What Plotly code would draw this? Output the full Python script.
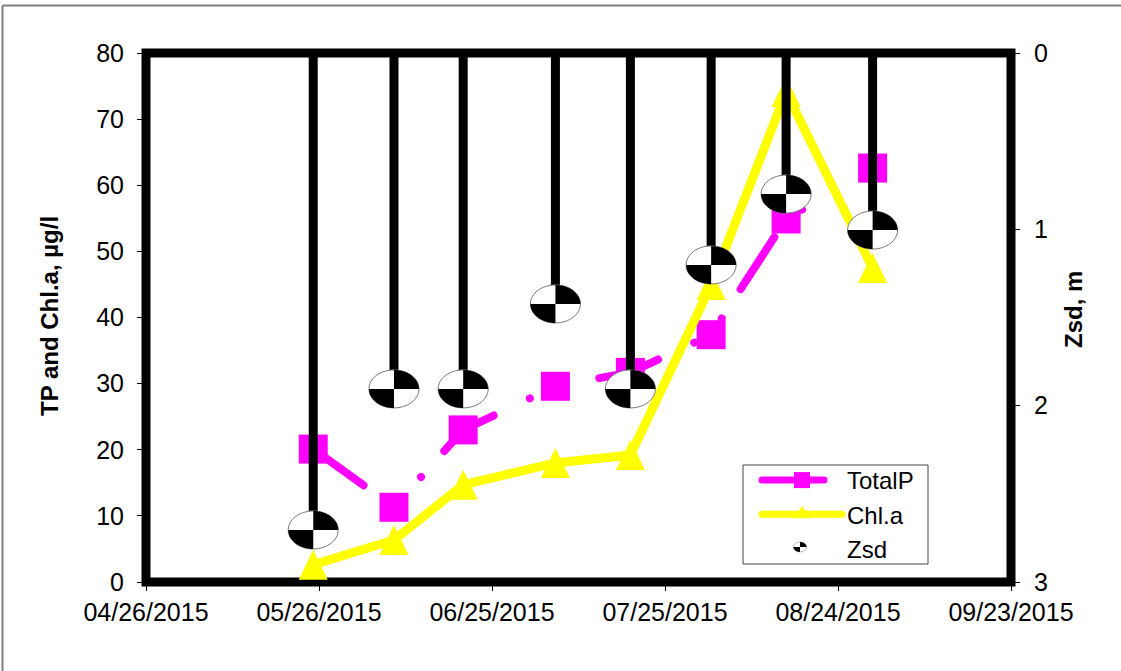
import plotly.graph_objects as go

dates = ["2015-05-25", "2015-06-08", "2015-06-20", "2015-07-06",
         "2015-07-19", "2015-08-02", "2015-08-15", "2015-08-30"]
total_p = [20.1, 11.3, 23.0, 29.6, 31.7, 37.4, 54.9, 62.6]
chl_a = [2.6, 6.35, 14.7, 18.0, 19.2, 44.9, 74.1, 47.5]
zsd = [2.705, 1.905, 1.905, 1.423, 1.905, 1.202, 0.80, 1.004]

x_ticks = ["2015-04-26", "2015-05-26", "2015-06-25", "2015-07-25",
           "2015-08-24", "2015-09-23"]
y_ticks = [0, 10, 20, 30, 40, 50, 60, 70, 80]
y2_ticks = [0, 1, 2, 3]

W, H = 1121, 671
L, R, T, B = 146, 1011, 53, 582
FONT = "Liberation Sans, Arial, sans-serif"
FS = 24
TICK_FS = 25


def px(v):
    return (v - L) / (R - L)


def py(v):
    return (B - v) / (B - T)


def ellipse_paths(rx, ry):
    k = 0.5523
    cx, cy = rx * k, ry * k
    full = (f"M{rx},0 C{rx},{cy} {cx},{ry} 0,{ry} C{-cx},{ry} {-rx},{cy} {-rx},0 "
            f"C{-rx},{-cy} {-cx},{-ry} 0,{-ry} C{cx},{-ry} {rx},{-cy} {rx},0 Z")
    tr = f"M0,0 L0,{ry} C{cx},{ry} {rx},{cy} {rx},0 Z"
    bl = f"M0,0 L0,{-ry} C{-cx},{-ry} {-rx},{-cy} {-rx},0 Z"
    return full, tr, bl


def wheel(xref, yref, xa, ya, rx, ry, lw):
    full, tr, bl = ellipse_paths(rx, ry)
    base = dict(type="path", xref=xref, yref=yref, xsizemode="pixel",
                ysizemode="pixel", xanchor=xa, yanchor=ya, layer="above")
    return [
        dict(base, path=full, fillcolor="white", line=dict(color="#777777", width=lw)),
        dict(base, path=tr, fillcolor="black", line=dict(width=0)),
        dict(base, path=bl, fillcolor="black", line=dict(width=0)),
    ]


border = dict(type="line", xref="paper", yref="paper",
              line=dict(color="#808080", width=2), layer="below")
shapes = [
    dict(border, x0=px(2.5), x1=px(2.5), y0=py(671), y1=py(5.5)),
    dict(border, x0=px(2.5), x1=px(1121), y0=py(5.5), y1=py(5.5)),
    dict(type="rect", xref="paper", yref="paper", x0=0, x1=1, y0=0, y1=1,
         line=dict(color="black", width=9), layer="below"),
]
for d, c in zip(dates, chl_a):
    shapes.append(dict(type="path", xref="x", yref="y", xsizemode="pixel",
                       ysizemode="pixel", xanchor=d, yanchor=c, layer="below",
                       path="M-14.5,-15 L14.5,-15 L0,15 Z", fillcolor="#FFFF00",
                       line=dict(width=0)))
for d, z in zip(dates, zsd):
    shapes += wheel("x", "y2", d, z, 25, 19, 1)
shapes.append(dict(type="rect", xref="paper", yref="paper", x0=px(743), x1=px(928),
                   y0=py(564), y1=py(465), fillcolor="white",
                   line=dict(color="#444444", width=1), layer="above"))
shapes += wheel("paper", "paper", px(800), py(547), 6.5, 5, 0.5)

fig = go.Figure()
fig.add_trace(go.Scatter(
    x=dates, y=total_p, name="TotalP", mode="lines+markers", legendgroup="a",
    line=dict(color="#FF00FF", width=8, dash="62px,40px,0.1px,38px,0.1px,34.8px"),
    marker=dict(symbol="square", size=29, color="#FF00FF", line=dict(width=0))))
fig.add_trace(go.Scatter(
    x=dates, y=chl_a, name="Chl.a", mode="lines+markers", legendgroup="b",
    line=dict(color="#FFFF00", width=9),
    marker=dict(symbol="triangle-up", size=16, color="#FFFF00", line=dict(width=0))))
fig.add_trace(go.Scatter(
    x=dates, y=zsd, name="Zsd", mode="markers", yaxis="y2", legendgroup="c",
    marker=dict(size=6, color="rgba(0,0,0,0)", line=dict(width=0)),
    error_y=dict(type="data", symmetric=False, array=[0] * len(zsd), arrayminus=zsd,
                 color="black", thickness=9, width=0)))

fig.update_layout(
    width=W, height=H, autosize=False,
    margin=dict(l=L, r=W - R, t=T, b=H - B, pad=0),
    paper_bgcolor="white", plot_bgcolor="white",
    font=dict(family=FONT, size=FS, color="black"),
    hovermode=False,
    xaxis=dict(type="date", range=[x_ticks[0], x_ticks[-1]], tickmode="array",
               tickvals=x_ticks, tickformat="%m/%d/%Y", showgrid=False, zeroline=False,
               showline=False, ticks="outside", ticklen=8, tickwidth=1,
               tickcolor="black", tickangle=0, ticklabelstandoff=0,
               tickfont=dict(size=TICK_FS)),
    yaxis=dict(range=[0, 80], tickmode="array", tickvals=y_ticks, showgrid=False,
               zeroline=False, showline=False, ticks="outside", ticklen=8,
               tickwidth=1, tickcolor="black", ticklabelstandoff=8,
               tickfont=dict(size=TICK_FS)),
    yaxis2=dict(range=[3, 0], tickmode="array", tickvals=y2_ticks, overlaying="y",
                side="right", showgrid=False, zeroline=False, showline=False,
                ticks="outside", ticklen=8, tickwidth=1, tickcolor="black",
                ticklabelstandoff=9, tickfont=dict(size=TICK_FS)),
    legend=dict(x=px(757), y=py(458), xanchor="left", yanchor="top",
                bgcolor="rgba(0,0,0,0)", borderwidth=0, itemwidth=80,
                tracegroupgap=0, font=dict(size=FS), itemclick=False),
    shapes=shapes,
    annotations=[
        dict(text="<b>TP and Chl.a, µg/l</b>", xref="paper", yref="paper", x=px(49),
             y=py(316), xanchor="center", yanchor="middle", textangle=-90,
             showarrow=False, font=dict(size=FS)),
        dict(text="<b>Zsd, m</b>", xref="paper", yref="paper", x=px(1073),
             y=py(310), xanchor="center", yanchor="middle", textangle=-90,
             showarrow=False, font=dict(size=FS)),
    ],
)

post = """
document.body.style.margin = '0';
document.querySelectorAll('.js-line, .legendlines path').forEach(function (el) {
  el.style.strokeLinecap = 'round';
});
document.querySelectorAll('.legendlines path').forEach(function (el) {
  el.style.strokeWidth = '7px';
});
"""
fig.write_html("out.html", post_script=post, config=dict(displayModeBar=False))
